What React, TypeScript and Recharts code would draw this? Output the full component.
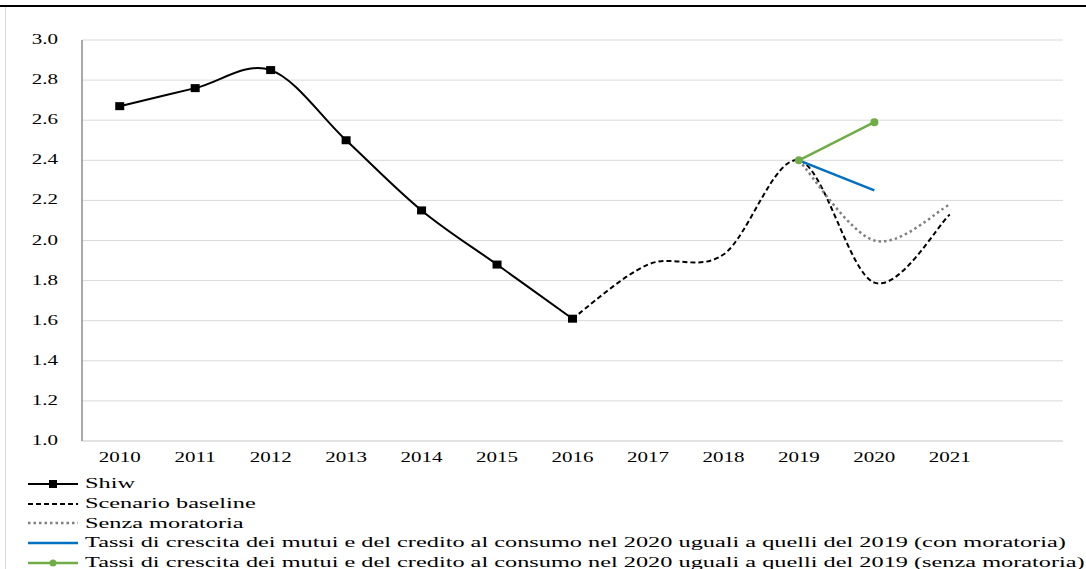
import React from 'react';
import { LineChart, Line, XAxis, YAxis, CartesianGrid } from 'recharts';

const years = ['2010', '2011', '2012', '2013', '2014', '2015', '2016', '2017', '2018', '2019', '2020', '2021', '2022'];
const shiw = [2.67, 2.76, 2.85, 2.5, 2.15, 1.88, 1.61, null, null, null, null, null, null];
const baseline = [null, null, null, null, null, null, 1.61, 1.88, 1.93, 2.4, 1.79, 2.13, null];
const senzaMoratoria = [null, null, null, null, null, null, null, null, null, 2.4, 2.0, 2.18, null];
const tassiCon = [null, null, null, null, null, null, null, null, null, 2.4, 2.25, null, null];
const tassiSenza = [null, null, null, null, null, null, null, null, null, 2.4, 2.59, null, null];
const yTicks = [1.0, 1.2, 1.4, 1.6, 1.8, 2.0, 2.2, 2.4, 2.6, 2.8, 3.0];

const SERIES = [
    { key: 'shiw', name: 'Shiw', color: '#000000', dash: undefined, width: 2, marker: 'square' },
    { key: 'baseline', name: 'Scenario baseline', color: '#000000', dash: '5 3', width: 2, marker: null },
    { key: 'senza', name: 'Senza moratoria', color: '#808080', dash: '2.5 3', width: 2.5, marker: null },
    { key: 'con', name: 'Tassi di crescita dei mutui e del credito al consumo nel 2020 uguali a quelli del 2019 (con moratoria)', color: '#0070c0', dash: undefined, width: 2.5, marker: null },
    { key: 'tassiSenza', name: 'Tassi di crescita dei mutui e del credito al consumo nel 2020 uguali a quelli del 2019 (senza moratoria)', color: '#70ad47', dash: undefined, width: 2.5, marker: 'circle' },
];

const data = years.map((year, i) => ({
    year,
    shiw: shiw[i],
    baseline: baseline[i],
    senza: senzaMoratoria[i],
    con: tassiCon[i],
    tassiSenza: tassiSenza[i],
}));

const FONT = '"Liberation Serif", "Times New Roman", serif';
const STRETCH = 1.5;
const LEGEND_STRETCH = 1.62;

// excel-like smoothing (catmull-rom, 1/6 tangents)
function excelCurve(context: any) {
    let pts: number[][] = [];
    return {
        areaStart() {},
        areaEnd() {},
        lineStart() { pts = []; },
        point(x: number, y: number) { pts.push([+x, +y]); },
        lineEnd() {
            const n = pts.length;
            if (n === 0) return;
            context.moveTo(pts[0][0], pts[0][1]);
            if (n === 1) return;
            for (let i = 0; i < n - 1; i++) {
                const p0 = pts[Math.max(i - 1, 0)];
                const p1 = pts[i];
                const p2 = pts[i + 1];
                const p3 = pts[Math.min(i + 2, n - 1)];
                context.bezierCurveTo(
                    p1[0] + (p2[0] - p0[0]) / 6, p1[1] + (p2[1] - p0[1]) / 6,
                    p2[0] - (p3[0] - p1[0]) / 6, p2[1] - (p3[1] - p1[1]) / 6,
                    p2[0], p2[1]
                );
            }
        },
    };
}

const XTick = ({ x, y, payload }: any) => {
    if (payload.value === '2022') return null;
    return (
        <g transform={`translate(${x},${y})`}>
            <text transform={`scale(${STRETCH},1)`} x={0} y={13} textAnchor="middle" fontFamily={FONT} fontSize={14} fill="#000">
                {payload.value}
            </text>
        </g>
    );
};

const YTick = ({ x, y, payload }: any) => (
    <g transform={`translate(${x},${y})`}>
        <text transform={`scale(${STRETCH},1)`} x={0} y={4} textAnchor="end" fontFamily={FONT} fontSize={14} fill="#000">
            {Number(payload.value).toFixed(1)}
        </text>
    </g>
);

const SquareDot = ({ cx, cy, value }: any) => {
    if (value == null || cx == null) return null;
    return <rect x={cx - 4.5} y={cy - 4} width={9} height={8} fill="#000" />;
};

const CircleDot = ({ cx, cy, value }: any) => {
    if (value == null || cx == null) return null;
    return <circle cx={cx} cy={cy} r={4} fill="#70ad47" />;
};

const LegendBox = () => (
    <div style={{ fontFamily: FONT, fontSize: 15, color: '#000' }}>
        {SERIES.map((s) => (
            <div key={s.key} style={{ height: 19.7, display: 'flex', alignItems: 'center', whiteSpace: 'nowrap' }}>
                <svg width={52} height={12} style={{ marginLeft: 28, flex: 'none' }}>
                    <line x1={0} y1={6} x2={50} y2={6} stroke={s.color} strokeWidth={s.width} strokeDasharray={s.dash} />
                    {s.marker === 'square' && <rect x={21} y={2} width={8} height={8} fill="#000" />}
                    {s.marker === 'circle' && <circle cx={25} cy={6} r={3.5} fill={s.color} />}
                </svg>
                <span style={{ display: 'inline-block', marginLeft: 5, transform: `scaleX(${LEGEND_STRETCH})`, transformOrigin: 'left center' }}>
                    {s.name}
                </span>
            </div>
        ))}
    </div>
);

export default function App() {
    return (
        <div style={{ position: 'absolute', left: 0, top: 0, width: 1086, height: 569, background: '#fff', overflow: 'hidden' }}>
            <div style={{ position: 'absolute', left: 0, top: 5, width: 1086, height: 2, background: '#000' }} />
            <div style={{ position: 'absolute', left: 5, top: 7, width: 1, height: 562, background: '#d9d9d9' }} />
            <div style={{ position: 'absolute', left: 0, top: 0 }}>
                <LineChart width={1086} height={569} data={data} margin={{ top: 40, right: 23, bottom: 98, left: 0 }}>
                    <CartesianGrid vertical={false} stroke="#d9d9d9" strokeWidth={1} />
                    <XAxis dataKey="year" scale="band" axisLine={{ stroke: '#d9d9d9' }} tickLine={false} tick={<XTick />} interval={0} height={30} />
                    <YAxis
                        domain={[1, 3]}
                        ticks={yTicks}
                        width={82}
                        axisLine={{ stroke: '#8c8c8c', strokeWidth: 1.5 }}
                        tickLine={false}
                        tick={<YTick />}
                        tickMargin={18}
                        interval={0}
                    />
                    <YAxis yAxisId="right" orientation="right" width={0} domain={[0, 1]} tick={false} tickLine={false} axisLine={{ stroke: '#a0a0a0', strokeWidth: 2 }} />
                    <XAxis xAxisId="top" orientation="top" height={0} tick={false} tickLine={false} axisLine={{ stroke: '#a6a6a6' }} />
                    <Line type={excelCurve as any} dataKey="baseline" stroke="#000" strokeWidth={2} strokeDasharray="5 3" dot={false} isAnimationActive={false} />
                    <Line type={excelCurve as any} dataKey="senza" stroke="#808080" strokeWidth={2.5} strokeDasharray="2.5 3" dot={false} isAnimationActive={false} />
                    <Line type="linear" dataKey="con" stroke="#0070c0" strokeWidth={2.5} dot={false} isAnimationActive={false} />
                    <Line type="linear" dataKey="tassiSenza" stroke="#70ad47" strokeWidth={2.5} dot={<CircleDot />} isAnimationActive={false} />
                    <Line type={excelCurve as any} dataKey="shiw" stroke="#000" strokeWidth={2} dot={<SquareDot />} isAnimationActive={false} />
                </LineChart>
            </div>
            <div style={{ position: 'absolute', left: 0, top: 474, width: 1086 }}>
                <LegendBox />
            </div>
        </div>
    );
}
